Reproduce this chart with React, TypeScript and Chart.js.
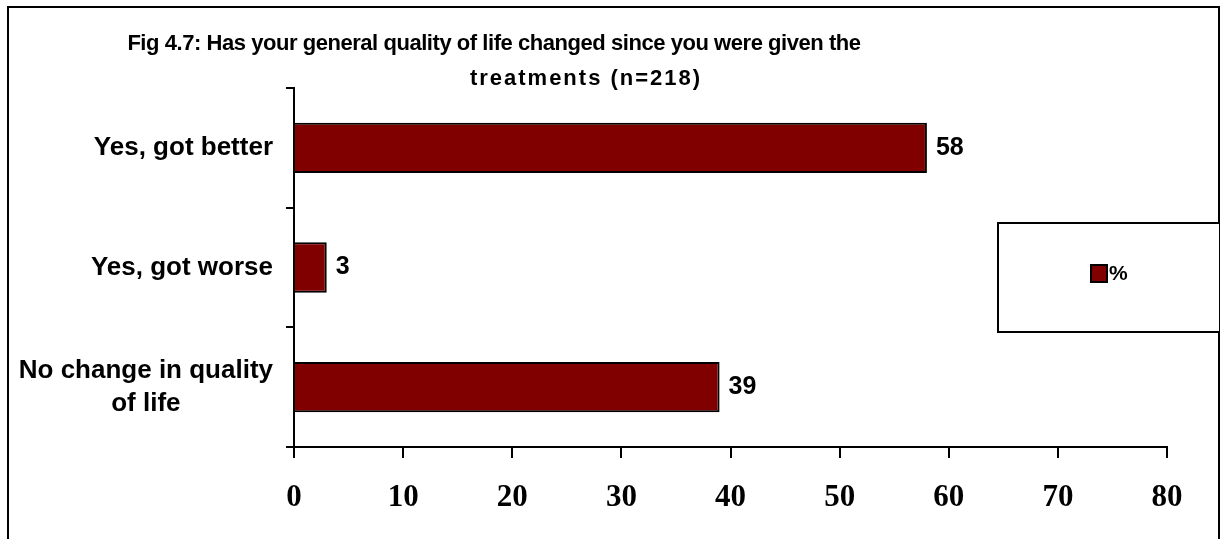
import React, { useEffect, useRef } from "react";
import { Chart, registerables } from "chart.js";

Chart.register(...registerables);

const categories: string[][] = [
  ["Yes, got better"],
  ["Yes, got worse"],
  ["No change in quality", "of life"],
];
const values: number[] = [58, 3, 39];
const seriesName = "%";
const xMin = 0;
const xMax = 80;
const xStep = 10;
const titleLines: string[] = [
  "Fig 4.7: Has your general quality of life changed since you were given the",
  "treatments (n=218)",
];

const SANS = "'Liberation Sans', Arial, sans-serif";
const SERIF = "'Liberation Serif', 'Times New Roman', serif";
const BAR = "#800000";

const decor = {
  id: "decor",
  afterDraw(chart: any) {
    const ctx = chart.ctx as CanvasRenderingContext2D;
    const area = chart.chartArea;
    ctx.save();

    // outer frame
    ctx.strokeStyle = "#000";
    ctx.lineWidth = 2;
    ctx.strokeRect(8, 7, 1211, 620);

    // title
    ctx.fillStyle = "#000";
    ctx.font = `bold 22px ${SANS}`;
    ctx.textAlign = "center";
    ctx.textBaseline = "alphabetic";
    (ctx as any).letterSpacing = "-0.45px";
    ctx.fillText(titleLines[0], 494, 50);
    (ctx as any).letterSpacing = "2px";
    ctx.fillText(titleLines[1], 586, 85);
    (ctx as any).letterSpacing = "0px";

    // category labels
    const yScale = chart.scales.y;
    ctx.font = `bold 26px ${SANS}`;
    ctx.textBaseline = "middle";
    ctx.textAlign = "center";
    const rightEdge = area.left - 21;
    categories.forEach((lines, i) => {
      const cy = yScale.getPixelForValue(i);
      const widest = Math.max(...lines.map((l) => ctx.measureText(l).width));
      const cx = rightEdge - widest / 2;
      lines.forEach((l, j) => {
        ctx.fillText(l, cx, cy + (j - (lines.length - 1) / 2) * 33);
      });
    });

    // data labels
    const meta = chart.getDatasetMeta(0);
    ctx.font = `bold 25px ${SANS}`;
    ctx.textAlign = "left";
    meta.data.forEach((el: any, i: number) => {
      ctx.fillText(String(values[i]), el.x + 9, el.y);
    });

    // legend
    ctx.fillStyle = "#fff";
    ctx.fillRect(998, 223, 222, 109);
    ctx.strokeStyle = "#000";
    ctx.lineWidth = 2;
    ctx.strokeRect(998, 223, 222, 109);
    ctx.fillStyle = BAR;
    ctx.fillRect(1091, 265, 16, 17);
    ctx.lineWidth = 2;
    ctx.strokeRect(1091, 265, 16, 17);
    ctx.fillStyle = "#000";
    ctx.font = `bold 21px ${SANS}`;
    ctx.textAlign = "left";
    ctx.textBaseline = "middle";
    ctx.fillText(seriesName, 1109, 274);

    ctx.restore();
  },
};

export default function App() {
  const ref = useRef<HTMLCanvasElement | null>(null);

  useEffect(() => {
    document.body.style.margin = "0";
    const canvas = ref.current;
    if (!canvas) return;
    const chart = new Chart(canvas, {
      type: "bar",
      data: {
        labels: categories.map((c) => c.join(" ")),
        datasets: [
          {
            label: seriesName,
            data: values,
            backgroundColor: BAR,
            borderColor: "#000",
            borderWidth: 2,
            categoryPercentage: 0.42,
            barPercentage: 1,
          },
        ],
      },
      options: {
        indexAxis: "y",
        animation: false,
        responsive: false,
        devicePixelRatio: 1,
        layout: { padding: { left: 0, right: 53, top: 88, bottom: 0 } },
        plugins: {
          legend: { display: false },
          title: { display: false },
          tooltip: { enabled: false },
        },
        scales: {
          y: {
            type: "category",
            position: "left",
            grid: {
              display: true,
              drawOnChartArea: false,
              drawTicks: true,
              tickLength: 8,
              color: "#000",
              lineWidth: 2,
              offset: true,
            },
            border: { display: true, color: "#000", width: 2 },
            ticks: { display: false },
            afterFit: (s: any) => {
              s.width = 294;
            },
          },
          x: {
            type: "linear",
            position: "bottom",
            min: xMin,
            max: xMax,
            ticks: {
              stepSize: xStep,
              color: "#000",
              padding: 21,
              font: { family: SERIF, weight: "bold", size: 31 },
            },
            grid: {
              drawOnChartArea: false,
              drawTicks: true,
              tickLength: 11,
              color: "#000",
              lineWidth: 2,
            },
            border: { display: true, color: "#000", width: 2 },
            afterFit: (s: any) => {
              s.height = 92;
            },
          },
        },
      },
      plugins: [decor],
    } as any);
    return () => chart.destroy();
  }, []);

  return (
    <canvas
      ref={ref}
      width={1220}
      height={539}
      style={{ display: "block", width: 1220, height: 539 }}
    />
  );
}
